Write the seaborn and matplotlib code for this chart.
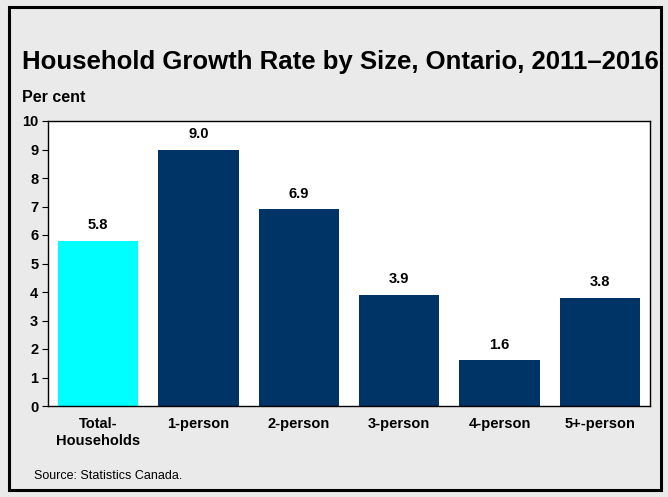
import matplotlib
matplotlib.use("Agg")
import matplotlib.pyplot as plt
import seaborn as sns
import pandas as pd
from matplotlib.patches import Rectangle

categories = ["Total-\nHouseholds", "1-person", "2-person", "3-person", "4-person", "5+-person"]
values = [5.8, 9.0, 6.9, 3.9, 1.6, 3.8]
bar_colors = ["#00FFFF", "#003366", "#003366", "#003366", "#003366", "#003366"]
yticks = list(range(0, 11))

sns.set_style("white")
plt.rcParams["font.family"] = ["Liberation Sans", "DejaVu Sans"]
plt.rcParams["text.color"] = "black"
plt.rcParams["xtick.color"] = "black"
plt.rcParams["ytick.color"] = "black"
plt.rcParams["xtick.labelcolor"] = "black"
plt.rcParams["ytick.labelcolor"] = "black"

df = pd.DataFrame({"cat": categories, "val": values})

fig = plt.figure(figsize=(6.68, 4.97), dpi=100)
bg = "#EAEAEA"
fig.patch.set_facecolor(bg)
fig.patches.append(Rectangle((0.013, 0.014), 0.976, 0.971, transform=fig.transFigure,
                             fill=False, edgecolor="black", linewidth=2.2, zorder=10))

ax = fig.add_axes([48/668, 1-406/497, (650-48)/668, (406-121)/497])
sns.barplot(data=df, x="cat", y="val", hue="cat", palette=bar_colors, legend=False,
            width=0.8, saturation=1, ax=ax, edgecolor="none")
ax.set_facecolor("white")
ax.set_ylim(0, 10)
ax.set_xlim(-0.5, 5.5)
ax.set_yticks(yticks)
ax.set_yticklabels([str(t) for t in yticks], fontsize=10.5, fontweight="bold", color="black")
ax.tick_params(axis="y", direction="out", length=4, width=0.8, color="black", pad=3, left=True)
ax.tick_params(axis="x", length=0, pad=8)
for lbl in ax.get_xticklabels():
    lbl.set_fontweight("bold")
    lbl.set_fontsize(10.5)
    lbl.set_color("black")
    lbl.set_linespacing(1.25)
ax.set_xlabel("")
ax.set_ylabel("")
for s in ax.spines.values():
    s.set_visible(True)
    s.set_color("black")
    s.set_linewidth(1.0)

for i, v in enumerate(values):
    ax.text(i, v + 0.3, f"{v:.1f}", ha="center", va="bottom", fontsize=10.5,
            fontweight="bold", color="black")

fig.text(22/668, 1-62/497, "Household Growth Rate by Size, Ontario, 2011\u20132016",
         fontsize=18.5, fontweight="bold", va="center", ha="left", color="black")
fig.text(22/668, 1-98/497, "Per cent", fontsize=11.5, fontweight="bold", va="center",
         ha="left", color="black")
fig.text(34/668, 1-476/497, "Source: Statistics Canada.", fontsize=9, va="center",
         ha="left", color="black")

fig.savefig("out.png", dpi=100, facecolor=bg)
